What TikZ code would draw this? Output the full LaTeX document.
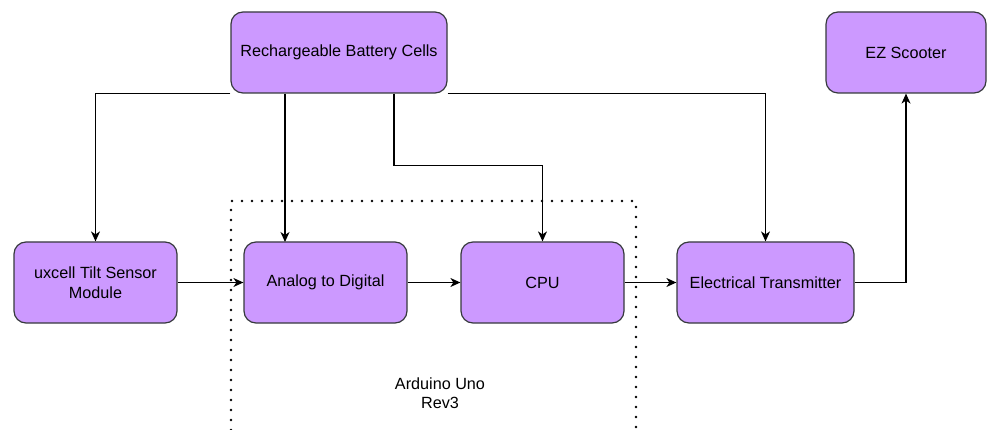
\documentclass[tikz,border=0pt]{standalone}
\usepackage{fontspec}
\setmainfont{Liberation Sans}
\usetikzlibrary{arrows.meta}
\definecolor{blockfill}{HTML}{CC99FF}
\definecolor{blockline}{HTML}{36393D}
\tikzset{block/.style={draw=blockline, fill=blockfill, line width=1.2pt, rounded corners=12pt, minimum height=81pt, align=center, font=\fontsize{16.2}{19.5}\selectfont, inner sep=0pt}, block/.default={}}
\tikzset{link/.style={draw=black, line width=1.2pt, -{Stealth[length=10pt,width=9pt,inset=3pt]}}}

\begin{document}
\begin{tikzpicture}[x=1pt,y=-1pt]
	\useasboundingbox (0,0) rectangle (987,430);
	\draw[line width=2.6pt, dash pattern=on 0pt off 10pt, line cap=round] (231,430) -- (231,201) -- (636,201) -- (636,430);
	\node[block, minimum width=216pt] (bat) at (339,52.5) {Rechargeable Battery Cells};
	\node[block, minimum width=160pt] (ez) at (906,52.5) {EZ Scooter};
	\node[block, minimum width=163pt] (tilt) at (95.5,282.5) {uxcell Tilt Sensor\\Module};
	\node[block, minimum width=163pt] (ad) at (325.5,282.5) {Analog to Digital};
	\node[block, minimum width=163pt] (cpu) at (542.5,282.5) {CPU};
	\node[block, minimum width=177pt] (tx) at (765.5,282.5) {Electrical Transmitter};
	\node[align=center, font=\fontsize{16.2}{19.5}\selectfont] (uno) at (440,393) {Arduino Uno\\Rev3};
	\coordinate (adin) at (285,242);
	\draw[link] (bat.south west) -| (tilt.north);
	\draw[link] (adin |- bat.south) -- (adin);
	\draw[link] ([xshift=55pt]bat.south) -- ++(0,72) -| (cpu.north);
	\draw[link] (bat.south east) -| (tx.north);
	\draw[link] (tilt) -- (ad);
	\draw[link] (ad) -- (cpu);
	\draw[link] (cpu) -- (tx);
	\draw[link] (tx.east) -| (ez.south);
\end{tikzpicture}
\end{document}
